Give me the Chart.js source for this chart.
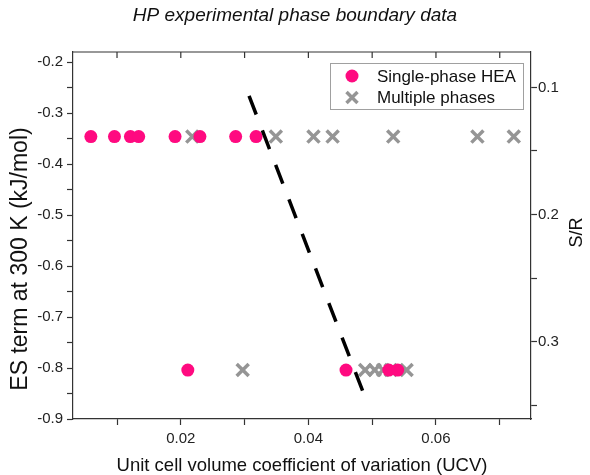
<!DOCTYPE html>
<html>
<head>
<meta charset="utf-8">
<script src="https://cdn.jsdelivr.net/npm/chart.js@4.4.0/dist/chart.umd.min.js"></script>
<style>
  html, body { margin: 0; padding: 0; background: #fff; }
  #wrap { width: 590px; height: 475px; }
</style>
</head>
<body>
<div id="wrap"><canvas id="phaseChart"></canvas></div>
<script>
// HP phase boundary data
const singleUCV = [0.0059, 0.0096, 0.0121, 0.0134, 0.0191, 0.0230, 0.0286, 0.0318, 0.0211, 0.0459, 0.0526, 0.0540];
const singleES  = [-0.346, -0.346, -0.346, -0.346, -0.346, -0.346, -0.346, -0.346, -0.804, -0.804, -0.804, -0.804];
const multiUCV  = [0.0218, 0.0349, 0.0408, 0.0438, 0.0533, 0.0665, 0.0722, 0.0297, 0.0489, 0.0504, 0.0517, 0.0529, 0.0554];
const multiES   = [-0.346, -0.346, -0.346, -0.346, -0.346, -0.346, -0.346, -0.804, -0.804, -0.804, -0.804, -0.804, -0.804];
const boundaryUCV = [0.0307, 0.0486];
const boundaryES  = [-0.266, -0.848];

const xRange = [0.0031, 0.0749];
const esRange = [-0.9, -0.18];
const RT = 300 * 8.314 / 1000; // kJ/mol, converts ES term to S/R

const FONT = "'Liberation Sans', Arial, sans-serif";
const PINK = '#ff0a80';
const GREY = '#959595';
const AXIS = '#333';

const toPts = (xs, ys) => xs.map((x, i) => ({ x: x, y: ys[i] }));

function vText(ctx, text, x, y, size) {
    ctx.save();
    ctx.fillStyle = '#111';
    ctx.font = size + 'px ' + FONT;
    ctx.textAlign = 'center';
    ctx.textBaseline = 'middle';
    ctx.translate(x, y);
    ctx.rotate(-Math.PI / 2);
    ctx.fillText(text, 0, 0);
    ctx.restore();
}

const framePlugin = {
    id: 'frame',
    afterDraw(chart) {
        const { ctx, chartArea: a, scales } = chart;
        ctx.save();
        // top border with inward ticks
        ctx.strokeStyle = AXIS;
        ctx.lineWidth = 1.2;
        ctx.beginPath();
        ctx.moveTo(a.left, a.top);
        ctx.lineTo(a.right, a.top);
        scales.x.ticks.forEach(t => {
            const px = scales.x.getPixelForValue(t.value);
            ctx.moveTo(px, a.top);
            ctx.lineTo(px, a.top + 6);
        });
        ctx.stroke();
        ctx.restore();

        // axis titles that read bottom to top
        vText(ctx, 'ES term at 300 K (kJ/mol)', 21, 259, 23);
        vText(ctx, 'S/R', 577, (a.top + a.bottom) / 2 - 3, 18);

        // legend box
        ctx.save();
        const bx = a.right - 201, by = a.top + 11, bw = 193, bh = 46;
        ctx.fillStyle = '#fff';
        ctx.fillRect(bx, by, bw, bh);
        ctx.strokeStyle = '#a0a0a0';
        ctx.lineWidth = 1;
        ctx.strokeRect(bx + 0.5, by + 0.5, bw, bh);
        const items = [chart.data.datasets[1], chart.data.datasets[2]];
        items.forEach((ds, i) => {
            const cy = by + 13 + i * 21.5;
            const cx = bx + 22;
            if (ds.pointStyle === 'circle') {
                ctx.fillStyle = ds.backgroundColor;
                ctx.beginPath();
                ctx.arc(cx, cy, 6.5, 0, Math.PI * 2);
                ctx.fill();
            } else {
                ctx.strokeStyle = ds.borderColor;
                ctx.lineWidth = 3.5;
                ctx.beginPath();
                ctx.moveTo(cx - 5.5, cy - 5.5); ctx.lineTo(cx + 5.5, cy + 5.5);
                ctx.moveTo(cx + 5.5, cy - 5.5); ctx.lineTo(cx - 5.5, cy + 5.5);
                ctx.stroke();
            }
            ctx.fillStyle = '#111';
            ctx.font = '17px ' + FONT;
            ctx.textAlign = 'left';
            ctx.textBaseline = 'middle';
            ctx.fillText(ds.label, bx + 47, cy + 1);
        });
        ctx.restore();
    }
};

const tickFont = { family: FONT, size: 15 };
const gridOpts = { drawOnChartArea: false, drawTicks: true, tickLength: 6, color: AXIS, tickWidth: 1.2 };

const ctx = document.getElementById('phaseChart').getContext('2d');
new Chart(ctx, {
    type: 'scatter',
    data: {
        datasets: [
            { type: 'line', label: 'Boundary', data: toPts(boundaryUCV, boundaryES), borderColor: '#000', borderWidth: 3.5, borderDash: [20, 17], pointRadius: 0, fill: false, order: 0, yAxisID: 'y' },
            { label: 'Single-phase HEA', data: toPts(singleUCV, singleES), pointStyle: 'circle', pointRadius: 6.5, backgroundColor: PINK, borderColor: PINK, borderWidth: 0, order: 1, yAxisID: 'y' },
            { label: 'Multiple phases', data: toPts(multiUCV, multiES), pointStyle: 'crossRot', pointRadius: 8.5, backgroundColor: GREY, borderColor: GREY, borderWidth: 3.5, order: 2, yAxisID: 'y' }
        ]
    },
    options: {
        responsive: true,
        maintainAspectRatio: false,
        animation: false,
        layout: { padding: 0 },
        plugins: {
            legend: { display: false },
            tooltip: { enabled: false },
            title: { display: true, text: 'HP experimental phase boundary data', color: '#111', font: { family: FONT, size: 19, style: 'italic', weight: 'normal' }, padding: { top: 4, bottom: 25.2 } }
        },
        scales: {
            x: {
                type: 'linear', position: 'bottom', min: xRange[0], max: xRange[1],
                afterFit: s => { s.height = 56; },
                border: { display: true, color: AXIS, width: 1.2 },
                grid: gridOpts,
                ticks: { stepSize: 0.01, includeBounds: false, padding: 5, color: '#222', font: tickFont, maxRotation: 0, autoSkip: false,
                         callback: v => Math.round(v * 100) % 2 === 0 ? v.toFixed(2) : '' },
                title: { display: true, text: 'Unit cell volume coefficient of variation (UCV)', color: '#111', font: { family: FONT, size: 18.5, lineHeight: 1 }, padding: 0 }
            },
            y: {
                type: 'linear', position: 'left', min: esRange[0], max: esRange[1],
                afterFit: s => { s.width = 73; },
                border: { display: true, color: AXIS, width: 1.2 },
                grid: gridOpts,
                ticks: { stepSize: 0.05, includeBounds: false, padding: 4, color: '#222', font: tickFont, autoSkip: false,
                         callback: v => Math.round(v * 100) % 10 === 0 ? v.toFixed(1) : '' }
            },
            y2: {
                type: 'linear', position: 'right', reverse: true, min: -esRange[1] / RT, max: -esRange[0] / RT,
                afterFit: s => { s.width = 59; },
                border: { display: true, color: AXIS, width: 1.2 },
                grid: gridOpts,
                ticks: { stepSize: 0.05, includeBounds: false, padding: 1, color: '#222', font: tickFont, autoSkip: false,
                         callback: v => Math.round(v * 100) % 10 === 0 ? v.toFixed(1) : '' }
            }
        }
    },
    plugins: [framePlugin]
});
</script>
</body>
</html>
